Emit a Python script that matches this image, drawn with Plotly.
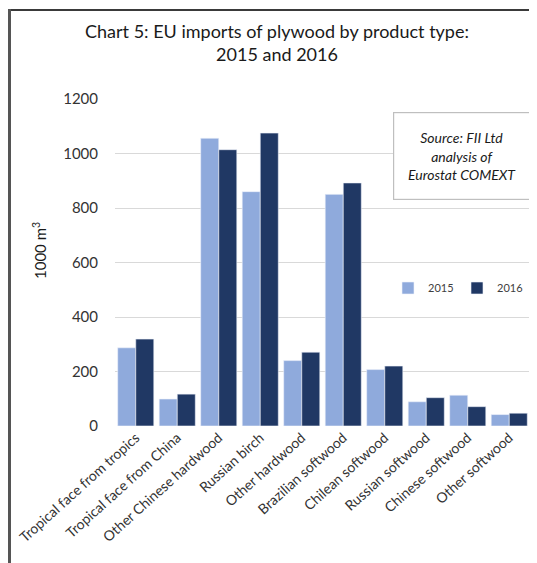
import plotly.graph_objects as go

categories = [
    "Tropical face from tropics",
    "Tropical face from China",
    "Other Chinese hardwood",
    "Russian birch",
    "Other hardwood",
    "Brazilian softwood",
    "Chilean softwood",
    "Russian softwood",
    "Chinese softwood",
    "Other softwood",
]
imports_2015 = [287, 99, 1056, 860, 240, 850, 207, 89, 113, 42]
imports_2016 = [319, 117, 1014, 1075, 271, 892, 220, 104, 71, 47]

# page body has an 8px margin, so the figure is drawn offset by that much
O = 8
W, H = 537 - O, 563 - O
L, R, T, B = 115 - O, 7, 99 - O, 137
pw, ph = W - L - R, H - T - B


def px_x(x):
    return (x - O - L) / pw


def px_y(y):
    return (H - B - (y - O)) / ph


font = "Lato, 'Open Sans', sans-serif"

fig = go.Figure()
fig.add_trace(go.Bar(x=categories, y=imports_2015, name="2015",
                     marker=dict(color="#8faadc", line=dict(color="#eef2fa", width=0.6))))
fig.add_trace(go.Bar(x=categories, y=imports_2016, name="2016",
                     marker=dict(color="#203864", line=dict(color="#eef2fa", width=0.6))))

fig.update_layout(
    width=W, height=H,
    margin=dict(l=L, r=R, t=T, b=B, autoexpand=False),
    paper_bgcolor="white", plot_bgcolor="white",
    font=dict(family=font, color="#404040"),
    barmode="group", bargap=0.13, bargroupgap=0,
    title=dict(text="Chart 5: EU imports of plywood by product type:<br>2015 and 2016",
               x=(277 - O) / W, xanchor="center", y=1 - 30 / H, yanchor="top",
               font=dict(size=18, color="#1a1a1a")),
    legend=dict(orientation="h", x=px_x(388), y=px_y(288), xanchor="left", yanchor="middle",
                font=dict(size=11, color="#404040"), entrywidth=24, itemwidth=30,
                bgcolor="rgba(0,0,0,0)"),
    showlegend=True,
)
fig.update_yaxes(range=[0, 1200], dtick=200, showgrid=True, gridcolor="#d9d9d9", gridwidth=1.2,
                 zeroline=False, showline=False, ticks="", ticklabelstandoff=16, automargin=False,
                 tickfont=dict(size=15, color="#333333"))
fig.update_xaxes(tickangle=-42, showline=False, ticks="", automargin=False,
                 tickfont=dict(size=14, color="#333333"))

fig.add_annotation(text="1000 m<sup>3</sup>", xref="paper", yref="paper",
                   x=px_x(40), y=px_y(251), xanchor="center", yanchor="middle",
                   textangle=-90, showarrow=False,
                   font=dict(size=15, color="#1a1a1a"))
fig.add_annotation(text="<i>Source: FII Ltd<br>analysis of<br>Eurostat COMEXT</i>",
                   xref="paper", yref="paper", x=px_x(462), y=px_y(156),
                   xanchor="center", yanchor="middle", showarrow=False,
                   width=136, height=86, borderpad=0, borderwidth=1.2, bordercolor="#bfbfbf",
                   bgcolor="white", font=dict(size=14, color="#1a1a1a"))

# outer frame: top and left edges only
fig.add_shape(type="line", xref="paper", yref="paper", x0=px_x(8), x1=px_x(537), y0=px_y(10), y1=px_y(10),
              line=dict(color="#3a3a3a", width=2))
fig.add_shape(type="line", xref="paper", yref="paper", x0=px_x(9.5), x1=px_x(9.5), y0=px_y(9), y1=px_y(563),
              line=dict(color="#555555", width=3))

fig.write_html("out.html")
